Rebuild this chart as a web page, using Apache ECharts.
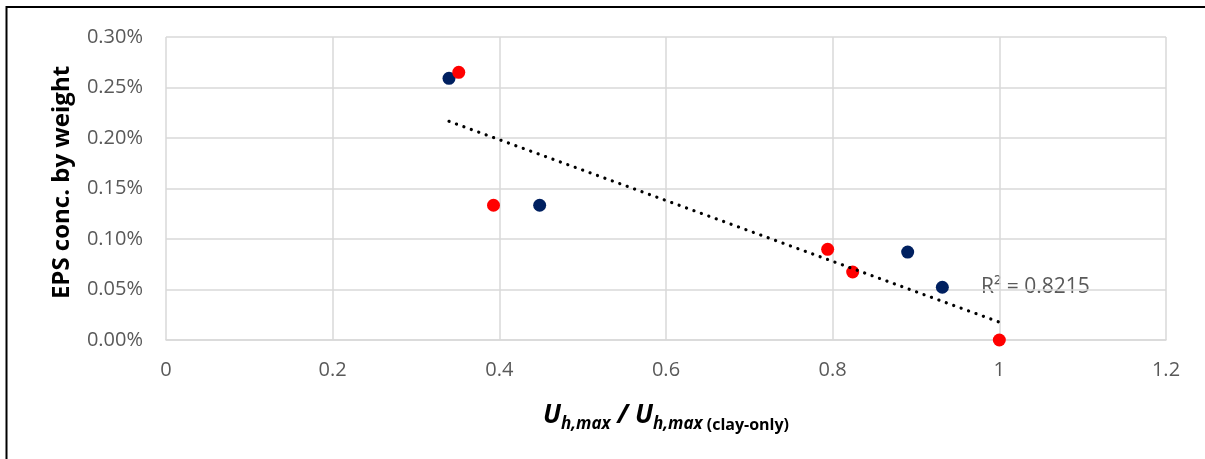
<!DOCTYPE html>
<html>
<head>
<meta charset="utf-8">
<script src="https://cdn.jsdelivr.net/npm/echarts@6/dist/echarts.min.js"></script>
<style>
  html, body { margin: 0; padding: 0; background: #fff; }
  #chart { width: 1205px; height: 459px; }
</style>
</head>
<body>
<div id="chart"></div>
<script>
// data
var xTicks = [0, 0.2, 0.4, 0.6, 0.8, 1, 1.2]
var yTicks = [0, 0.0005, 0.001, 0.0015, 0.002, 0.0025, 0.003]
var navyX = [0.3396, 0.4484, 0.890, 0.9316]
var navyY = [0.002591, 0.001334, 0.000871, 0.000522]
var redX = [0.3513, 0.393, 0.794, 0.824, 1.0]
var redY = [0.002650, 0.001334, 0.000898, 0.000673, 0]
var trendX = [0.3396, 1.0]
var trendY = [0.002165, 0.000177]
var r2Text = 'R² = 0.8215'

function pairs(xs, ys) {
  return xs.map(function (x, i) { return [x, ys[i]] })
}

var chart = echarts.init(document.getElementById('chart'))
var grey = '#595959'
var gridColor = '#d9d9d9'
var font = '"Open Sans", "Liberation Sans", sans-serif'

chart.setOption({
  backgroundColor: '#fff',
  animation: false,
  grid: {
    left: 166,
    right: 39,
    top: 37,
    bottom: 119
  },
  xAxis: {
    type: 'value',
    min: xTicks[0],
    max: xTicks[xTicks.length - 1],
    interval: 0.2,
    axisLine: { show: true, lineStyle: { color: gridColor, width: 1.5 } },
    axisTick: { show: false },
    splitLine: { show: true, lineStyle: { color: gridColor, width: 1.5 } },
    axisLabel: {
      color: grey,
      fontSize: 20,
      fontFamily: font,
      margin: 20,
      formatter: function (v) { return String(Math.round(v * 10) / 10) }
    },
    name: '{b|U}{s|h,max}{b| / U}{s|h,max}{c| (clay-only)}',
    nameLocation: 'middle',
    nameGap: 63,
    nameTextStyle: {
      rich: {
        b: { fontSize: 26, fontWeight: 'bold', fontStyle: 'italic', color: '#000', fontFamily: font, verticalAlign: 'bottom' },
        s: { fontSize: 17, fontWeight: 'bold', fontStyle: 'italic', color: '#000', fontFamily: font, verticalAlign: 'bottom', padding: [0, 0, -4, 0] },
        c: { fontSize: 16, fontWeight: 'bold', color: '#000', fontFamily: font, verticalAlign: 'bottom', padding: [0, 0, -4, 0] }
      }
    }
  },
  yAxis: {
    type: 'value',
    min: yTicks[0],
    max: yTicks[yTicks.length - 1],
    interval: 0.0005,
    axisLine: { show: false },
    axisTick: { show: false },
    splitLine: { show: true, lineStyle: { color: gridColor, width: 1.5 } },
    axisLabel: {
      color: grey,
      fontSize: 20,
      fontFamily: font,
      margin: 23,
      formatter: function (v) { return (v * 100).toFixed(2) + '%' }
    },
    name: 'EPS conc. by weight',
    nameLocation: 'middle',
    nameGap: 92,
    nameTextStyle: {
      color: '#000',
      fontSize: 24,
      fontWeight: 'bold',
      fontFamily: font,
      padding: [0, 0, 0, 12]
    }
  },
  graphic: [
    {
      type: 'rect',
      shape: { x: 6.5, y: 7, width: 1400, height: 600 },
      style: { fill: 'none', stroke: '#000', lineWidth: 2 },
      silent: true
    },
    {
      type: 'text',
      left: 981,
      top: 277,
      style: { text: r2Text, fill: grey, fontSize: 21, fontFamily: font }
    }
  ],
  series: [
    {
      name: 'navy',
      type: 'scatter',
      symbol: 'circle',
      symbolSize: 13,
      itemStyle: { color: '#002060', opacity: 1 },
      data: pairs(navyX, navyY)
    },
    {
      name: 'red',
      type: 'scatter',
      symbol: 'circle',
      symbolSize: 13,
      itemStyle: { color: '#ff0000', opacity: 1 },
      data: pairs(redX, redY)
    },
    {
      name: 'trend',
      type: 'line',
      symbol: 'none',
      silent: true,
      lineStyle: { color: '#000', width: 3.2, type: [0.1, 7.8], cap: 'round' },
      data: pairs(trendX, trendY)
    }
  ]
})
</script>
</body>
</html>
